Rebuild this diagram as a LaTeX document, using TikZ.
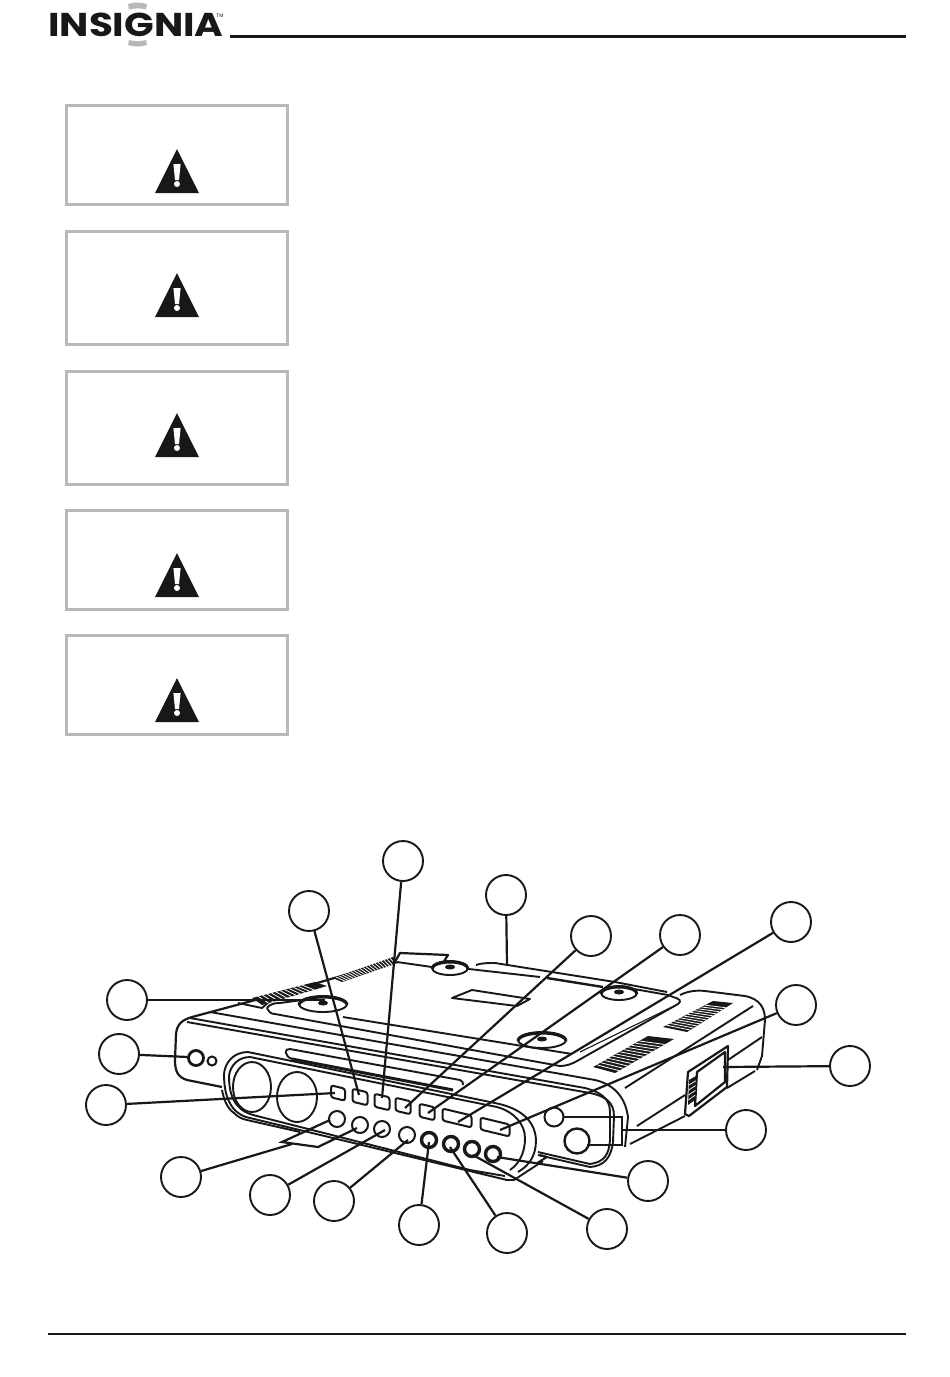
\documentclass[tikz,border=0pt]{standalone}
\usepackage{fontspec}
\usetikzlibrary{calc}
\newfontfamily\logofont{Poppins}[Scale=1]
\definecolor{boxgray}{HTML}{B8B8B8}
\definecolor{inkblack}{HTML}{1A1718}
\tikzset{
  warnbox/.style={draw=boxgray,line width=2.4,fill=white,inner sep=0,minimum width=221,rectangle},
  callout/.style={circle,draw=inkblack,line width=1.9,fill=white,minimum size=40,inner sep=0},
  rule/.style={draw=inkblack,line width=2.6},
  lead/.style={draw=inkblack,line width=2.2},
  ln/.style={draw=inkblack,line width=1.9,line join=round},
  ltk/.style={draw=inkblack,line width=3,line join=round},
  sqbtn/.style={draw=inkblack,line width=2,rounded corners=2.5,rectangle,inner sep=0,yslant=-0.24,fill=white},
  rdbtn/.style={circle,draw=inkblack,line width=2,inner sep=0,fill=white},
  rdtk/.style={circle,draw=inkblack,line width=3.4,inner sep=0,fill=white},
  warnmark/.pic={
    \fill[inkblack] (0,-22) -- (22,22) -- (-22,22) -- cycle;
    \fill[white] (-3.6,-7) -- (3.6,-7) -- (2,9) -- (-2,9) -- cycle;
    \fill[white] (0,13) circle (3);
  }
}
\begin{document}
\begin{tikzpicture}[x=1pt,y=-1pt]
\useasboundingbox (0,0) rectangle (950,1377);
\fill[white] (0,0) rectangle (950,1377);

% logo
\node[anchor=base west,inner sep=0,xscale=1.18,text=inkblack] (logo) at (48,36) {\logofont\fontsize{33}{33}\selectfont\bfseries INSIGNIA};
\node[anchor=west,inner sep=0,text=inkblack] (tm) at (216,15.5) {\fontspec{Liberation Sans}\fontsize{5}{5}\selectfont TM};
\fill[boxgray] (128,4) .. controls (134,2) and (141,2) .. (147,4) -- (146,9.5) .. controls (141,8) and (134,8) .. (129,9.5) -- cycle;
\fill[boxgray] (129,40) .. controls (134,41.5) and (141,41.5) .. (146,40) -- (147,45) .. controls (141,47) and (134,47) .. (128,45) -- cycle;
\coordinate (hl) at (230,36.5); \coordinate (hr) at (906,36.5);
\draw[rule] (hl) -- (hr);
\coordinate (fl) at (48,1334); \coordinate (fr) at (906,1334);
\draw[rule] (fl) -- (fr);

% warning boxes
\node[warnbox,minimum height=99] (w1) at (177,155) {};
\node[warnbox,minimum height=113] (w2) at (177,288) {};
\node[warnbox,minimum height=113] (w3) at (177,428) {};
\node[warnbox,minimum height=99] (w4) at (177,560) {};
\node[warnbox,minimum height=99] (w5) at (177,685) {};
\pic at (177,171) {warnmark};
\pic at (177,295) {warnmark};
\pic at (177,435) {warnmark};
\pic at (177,575) {warnmark};
\pic at (177,700) {warnmark};

% ---------- device -----------
% silhouette, left and rear
\draw[ln,line width=2.2] (222,1087) -- (187,1080) .. controls (177,1077) and (175,1070) .. (175,1060)
   -- (176,1034) .. controls (177,1024) and (182,1020) .. (192,1017)
   -- (300,988) -- (396,960) -- (400,953) -- (448,955) -- (443,963);
\draw[ln] (397,962) -- (432,967);
% rear edge
\draw[ln] (476,965) .. controls (481,963) and (488,963) .. (495,963) -- (615,982) -- (667,992);
\draw[ln] (460,968) -- (540,977);
\draw[ltk,line width=2.4] (547,978) -- (603,987);
\draw[ln] (634,989) -- (668,995) -- (673,997) .. controls (680,999) and (682,1001) .. (678,1004) -- (577,1061) .. controls (572,1064) and (566,1066) .. (560,1066);
\draw[ln,line width=1.1] (672,1007) -- (580,1052);
% right shoulder
\draw[ln] (680,995) .. controls (688,991) and (697,990) .. (705,991) -- (745,996) .. controls (760,999) and (765,1008) .. (765,1020) -- (762,1056) -- (757,1070);
% long lines across the top and the front
\draw[ln] (343,1017) -- (572,1054);
\draw[ln] (267,1008) .. controls (269,1012) and (271,1014) .. (275,1014) -- (560,1066);
\draw[ln] (267,1008) .. controls (270,1004) and (274,1003) .. (280,1003) -- (302,1000);
\draw[ln] (238,1003) -- (262,1008) -- (270,1001);
\draw[ln] (210,1012) -- (595,1080) .. controls (612,1084) and (625,1095) .. (628,1117) -- (625,1147);
\draw[ln] (190,1018) -- (585,1088) .. controls (600,1092) and (610,1098) .. (610,1112) -- (610,1140) .. controls (609,1155) and (604,1162) .. (590,1164) -- (538,1152);
\draw[ln] (187,1022) -- (590,1093) .. controls (605,1096) and (614,1102) .. (614,1116) -- (613,1142) .. controls (611,1158) and (604,1166) .. (590,1167) -- (538,1155);
\draw[ln] (540,1155) -- (547,1157) -- (537,1163);
% capsule around the lenses and buttons
\draw[ln] (248,1052) -- (495,1103) .. controls (520,1108) and (535,1120) .. (536,1140) .. controls (536,1155) and (530,1165) .. (518,1172);
\draw[ln] (250,1057) -- (497,1107) .. controls (515,1112) and (525,1125) .. (525,1138) .. controls (525,1152) and (520,1163) .. (510,1170);
\draw[ln] (248,1052) .. controls (234,1052) and (225,1062) .. (224,1074) .. controls (224,1090) and (227,1100) .. (233,1108) .. controls (238,1114) and (244,1117) .. (250,1118) -- (507,1180) -- (514,1180) -- (543,1161);
\draw[ln] (250,1057) .. controls (238,1057) and (230,1066) .. (229,1076) .. controls (229,1090) and (232,1100) .. (238,1106) .. controls (242,1111) and (247,1113) .. (253,1115) -- (470,1170);
\draw[ln] (222,1090) .. controls (224,1100) and (227,1108) .. (234,1113) .. controls (238,1117) and (242,1119) .. (247,1120) -- (300,1132);
\draw[ln] (470,1170) -- (505,1176);
% disc slot
\draw[ln] (290,1049) -- (460,1080) .. controls (462,1081) and (464,1083) .. (463,1085);
\draw[ln] (290,1049) .. controls (284,1048) and (284,1056) .. (292,1059);
\draw[ltk] (292,1059) -- (453,1090);
% lenses
\draw[ln] (252,1087) ellipse [x radius=19,y radius=25];
\draw[ln] (297,1097) ellipse [x radius=20,y radius=25];
% left features
\node[rdbtn,line width=2.8,minimum size=15] (jack0) at (196,1058) {};
\node[rdbtn,minimum size=9] (led) at (212,1061) {};
% right side edges
\draw[ln] (625,1088) -- (753,1006);
\draw[ln] (762,1037) -- (728,1060);
\draw[ln] (637,1126) -- (685,1095);
\draw[ln] (630,1144) -- (685,1116);
\draw[ln] (727,1088) -- (755,1071);
% feet
\foreach \nm/\cx/\cy/\rx/\ry in {f1/323/1004/24/8,f2/450/968/18/7,f3/542/1040/24/8,f4/619/993/18/7}{
  \fill[white] (\cx,\cy) ellipse [x radius=\rx,y radius=\ry];
  \draw[ln] (\cx,\cy) ellipse [x radius=\rx,y radius=\ry];
  \draw[ltk] (\cx-\rx,\cy+1) arc[start angle=180,end angle=360,x radius=\rx,y radius=\ry];
  \fill[inkblack] (\cx,\cy-1) ellipse [x radius=5,y radius=2.5];
}
% label
\draw[ln] (452,998) -- (472,990) -- (530,999) -- (517,1006) -- cycle;
% vents
\fill[inkblack] (663,1027) -- (713,1001) -- (733,1003) -- (687,1032) -- cycle;
\fill[inkblack] (593,1067) -- (648,1036) -- (674,1039) -- (615,1073) -- cycle;
\fill[inkblack] (252,998) -- (315,982) -- (327,986) -- (262,1005) -- cycle;
\fill[inkblack] (333,978) -- (393,957) -- (398,963) -- (342,982) -- cycle;
\foreach \t in {0.07,0.14,...,0.9}{
  \draw[white,line width=.8] ($(663,1027)!\t!(713,1001)$) -- ($(687,1032)!\t!(733,1003)$);
  \draw[white,line width=.8] ($(593,1067)!\t!(648,1036)$) -- ($(615,1073)!\t!(674,1039)$);
}
\foreach \t in {0.05,0.1,...,1.0}{
  \draw[white,line width=.8] ($(333,978)!\t!(393,957)$) -- ($(342,982)!\t!(398,963)$);
}
\foreach \t in {0.1,0.17,...,0.85}{
  \draw[white,line width=.8] ($(252,998)!\t!(315,982)$) -- ($(262,1005)!\t!(327,986)$);
}
% battery door
\draw[ln,line width=2.2] (688,1072) -- (728,1046) -- (727,1087) -- (689,1116) -- (685,1114) -- cycle;
\draw[ln,line width=2.2] (697,1072) -- (725,1052) -- (725,1082) -- (695,1106) -- cycle;
\fill[inkblack] (689,1080) -- (696,1076) -- (695,1100) -- (688,1105) -- cycle;
\foreach \t in {.2,.4,.6,.8}{\draw[white,line width=.7] ($(689,1080)!\t!(688,1105)$) -- ($(696,1076)!\t!(695,1100)$);}
% right end features
\node[rdbtn,minimum size=19] (ir) at (554,1117) {};
\node[rdbtn,line width=2.4,minimum size=25] (pw) at (577,1141) {};
% square buttons
\node[sqbtn,minimum width=14,minimum height=12] (b1) at (338,1093) {};
\node[sqbtn,minimum width=15,minimum height=13] (b2) at (360,1097) {};
\node[sqbtn,minimum width=15,minimum height=13] (b3) at (382,1102) {};
\node[sqbtn,minimum width=15,minimum height=13] (b4) at (403,1106) {};
\node[sqbtn,minimum width=15,minimum height=13] (b5) at (427,1112) {};
\node[sqbtn,minimum width=29,minimum height=12] (b6) at (457,1118) {};
\node[sqbtn,minimum width=29,minimum height=12] (b7) at (495,1127) {};
% round buttons
\node[rdbtn,minimum size=16] (r1) at (337,1119) {};
\node[rdbtn,minimum size=16] (r2) at (360,1125) {};
\node[rdbtn,minimum size=16] (r3) at (382,1129) {};
\node[rdbtn,minimum size=16] (r4) at (407,1135) {};
\node[rdtk,minimum size=15] (r5) at (429,1140) {};
\node[rdtk,minimum size=15] (r6) at (451,1144) {};
\node[rdtk,minimum size=15] (r7) at (472,1149) {};
\node[rdtk,minimum size=15] (r8) at (493,1154) {};

% ---------- callouts ----------
\node[callout] (c1) at (127,1000) {};
\node[callout] (c2) at (119,1054) {};
\node[callout] (c3) at (106,1105) {};
\node[callout] (c4) at (309,911) {};
\node[callout] (c5) at (403,861) {};
\node[callout] (c6) at (506,895) {};
\node[callout] (c7) at (591,936) {};
\node[callout] (c8) at (680,935) {};
\node[callout] (c9) at (791,922) {};
\node[callout] (c10) at (796,1005) {};
\node[callout] (c11) at (850,1066) {};
\node[callout] (c12) at (746,1130) {};
\node[callout] (c13) at (648,1181) {};
\node[callout] (c14) at (607,1229) {};
\node[callout] (c15) at (507,1233) {};
\node[callout] (c16) at (419,1225) {};
\node[callout] (c17) at (334,1201) {};
\node[callout] (c18) at (270,1195) {};
\node[callout] (c19) at (181,1177) {};

% free ends
\coordinate (e1) at (325,1000);
\coordinate (e2) at (188,1057);
\coordinate (e3) at (335,1093);
\coordinate (e4) at (359,1095);
\coordinate (e5) at (382,1098);
\coordinate (e6) at (507,964);
\coordinate (e7) at (405,1108);
\coordinate (e8) at (428,1113);
\coordinate (e9) at (458,1122);
\coordinate (e10) at (500,1130);
\coordinate (e11) at (723,1067);
\coordinate (e13) at (497,1157);
\coordinate (e14) at (473,1155);
\coordinate (e15) at (450,1147);
\coordinate (e16) at (429,1142);
\coordinate (e17) at (408,1140);
\coordinate (e18) at (385,1130);
\coordinate (br) at (622,1130);
\coordinate (brt) at (622,1117);
\coordinate (brb) at (622,1145);
\coordinate (ir1) at (563,1117);
\coordinate (pw1) at (587,1145);
\coordinate (j) at (292,1144);
\coordinate (j1) at (282,1142);
\coordinate (j2) at (318,1147);
\coordinate (e19a) at (330,1120);
\coordinate (e19b) at (357,1128);

\draw[lead] (c1) -- (e1);
\draw[lead] (c2) -- (e2);
\draw[lead] (c3) -- (e3);
\draw[lead] (c4) -- (e4);
\draw[lead] (c5) -- (e5);
\draw[lead] (c6) -- (e6);
\draw[lead] (c7) -- (e7);
\draw[lead] (c8) -- (e8);
\draw[lead] (c9) -- (e9);
\draw[lead] (c10) -- (e10);
\draw[lead] (c11) -- (e11);
\draw[lead] (c12) -- (br);
\draw[lead] (ir1) -- (brt) -- (brb) -- (pw1);
\draw[lead] (c13) -- (e13);
\draw[lead] (c14) -- (e14);
\draw[lead] (c15) -- (e15);
\draw[lead] (c16) -- (e16);
\draw[lead] (c17) -- (e17);
\draw[lead] (c18) -- (e18);
\draw[lead] (c19) -- (j);
\draw[lead] (e19a) -- (j1) -- (j2) -- (e19b);
\end{tikzpicture}
\end{document}
